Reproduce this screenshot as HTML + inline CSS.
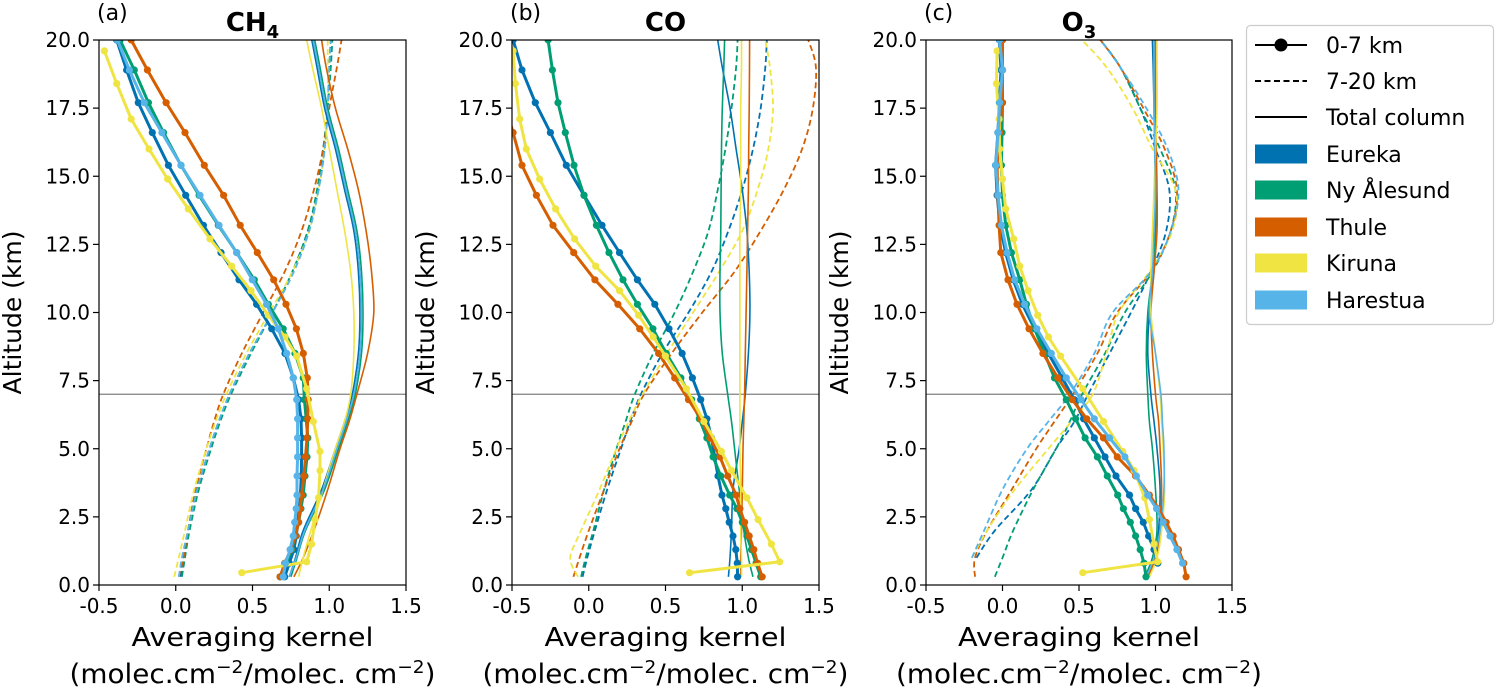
<!DOCTYPE html>
<html><head><meta charset="utf-8"><style>
html,body{margin:0;padding:0;background:#fff;}
svg{display:block;font-family:"DejaVu Sans","Liberation Sans",sans-serif;}
</style></head><body>
<svg id="chart" width="1496" height="688" viewBox="0 0 1496 688" xmlns="http://www.w3.org/2000/svg">
<defs>
<clipPath id="c0"><rect x="99" y="40" width="307" height="545"/></clipPath>
<clipPath id="c1"><rect x="512" y="40" width="307" height="545"/></clipPath>
<clipPath id="c2"><rect x="926" y="40" width="306" height="545"/></clipPath>
</defs>
</svg>
<script>
// ---------- data ----------
const xTicks = [-0.5, 0.0, 0.5, 1.0, 1.5];
const yTicks = [0, 2.5, 5, 7.5, 10, 12.5, 15, 17.5, 20];
const stations = ["Eureka", "Ny Ålesund", "Thule", "Kiruna", "Harestua"];
const colors = ["#0072B2", "#009E73", "#D55E00", "#F0E442", "#56B4E9"];
// altitude grids (km)
const altGrid = [0.3,0.8,1.3,1.8,2.3,2.8,3.3,4.0,4.7,5.4,6.1,6.8,7.6,8.5,9.4,10.3,11.2,12.2,13.2,14.3,15.4,16.6,17.7,18.9,20.0];
const altKiruna = [0.45,0.85,1.5,2.4,3.2,4.2,4.9,6.0,7.2,8.4,9.1,9.9,10.8,11.7,12.7,13.8,14.9,16.0,17.1,18.4,19.6];
const altSmooth = [0.3,1,2,3.5,5,6,7,8.5,10,11.5,13,14.5,16,17.5,19,20];

// CH4 : 0-7 km kernels
const ch4Low_Eureka = [0.71,0.74,0.77,0.785,0.795,0.805,0.812,0.818,0.82,0.82,0.816,0.80,0.766,0.712,0.625,0.527,0.412,0.295,0.18,0.065,-0.048,-0.153,-0.244,-0.32,-0.385];
const ch4Low_Ny = [0.68,0.72,0.755,0.78,0.80,0.815,0.83,0.842,0.855,0.86,0.85,0.838,0.831,0.777,0.70,0.603,0.512,0.397,0.277,0.152,0.034,-0.08,-0.178,-0.27,-0.363];
const ch4Low_Thule = [0.68,0.71,0.75,0.78,0.80,0.81,0.82,0.835,0.845,0.855,0.86,0.862,0.857,0.831,0.786,0.718,0.638,0.531,0.42,0.312,0.186,0.06,-0.063,-0.185,-0.29];
const ch4Low_Kiruna = [0.43,0.853,0.885,0.907,0.93,0.94,0.94,0.896,0.853,0.788,0.712,0.603,0.49,0.364,0.223,0.082,-0.053,-0.174,-0.29,-0.385,-0.465];
const ch4Low_Harestua = [0.70,0.715,0.745,0.765,0.775,0.785,0.79,0.79,0.794,0.794,0.794,0.788,0.766,0.723,0.668,0.592,0.499,0.397,0.282,0.158,0.034,-0.09,-0.205,-0.302,-0.38];
// CH4 : 7-20 km kernels
const ch4High_Eureka = [0.03,0.05,0.08,0.14,0.22,0.28,0.35,0.48,0.63,0.76,0.86,0.93,0.97,0.99,1.0,1.01];
const ch4High_Ny = [0.04,0.06,0.09,0.15,0.23,0.29,0.36,0.49,0.63,0.76,0.86,0.92,0.96,0.99,1.01,1.02];
const ch4High_Thule = [0.02,0.05,0.08,0.13,0.20,0.25,0.31,0.43,0.57,0.71,0.82,0.90,0.96,1.0,1.05,1.08];
const ch4High_Kiruna = [-0.01,0.02,0.06,0.12,0.20,0.26,0.33,0.46,0.61,0.76,0.87,0.93,0.97,0.99,0.99,0.99];
const ch4High_Harestua = [0.02,0.04,0.08,0.14,0.22,0.28,0.35,0.48,0.63,0.77,0.87,0.93,0.97,0.99,1.0,1.01];
// CH4 : total column
const ch4Tot_Eureka = [0.74,0.78,0.83,0.95,1.04,1.10,1.15,1.19,1.20,1.19,1.16,1.10,1.04,0.97,0.92,0.886];
const ch4Tot_Ny = [0.75,0.79,0.845,0.97,1.06,1.12,1.17,1.21,1.22,1.21,1.18,1.12,1.06,0.99,0.94,0.905];
const ch4Tot_Thule = [0.77,0.83,0.90,0.99,1.07,1.13,1.18,1.25,1.29,1.275,1.24,1.19,1.12,1.04,0.98,0.95];
const ch4Tot_Kiruna = [0.80,0.83,0.88,0.96,1.04,1.10,1.14,1.16,1.16,1.14,1.10,1.05,1.0,0.95,0.89,0.853];
const ch4Tot_Harestua = [0.74,0.785,0.84,0.96,1.05,1.11,1.16,1.20,1.21,1.20,1.17,1.11,1.05,0.98,0.93,0.895];

// CO (no Harestua)
const coLow_Eureka = [0.97,0.968,0.958,0.94,0.915,0.893,0.868,0.842,0.82,0.80,0.77,0.729,0.675,0.608,0.523,0.43,0.317,0.2,0.086,-0.031,-0.146,-0.25,-0.348,-0.435,-0.493];
const coLow_Ny = [1.12,1.09,1.06,1.03,1.0,0.965,0.918,0.86,0.81,0.77,0.72,0.67,0.60,0.505,0.418,0.317,0.223,0.132,0.05,-0.031,-0.096,-0.153,-0.2,-0.237,-0.265];
const coLow_Thule = [1.13,1.10,1.075,1.045,1.015,0.985,0.96,0.905,0.855,0.79,0.73,0.65,0.56,0.455,0.332,0.19,0.04,-0.098,-0.233,-0.341,-0.435,-0.493,-0.55,-0.6,-0.65];
const coLow_Kiruna = [0.657,1.244,1.19,1.103,1.03,0.93,0.864,0.75,0.636,0.50,0.42,0.325,0.2,0.045,-0.092,-0.216,-0.32,-0.407,-0.45,-0.478,-0.493];
const coHigh_Eureka = [-0.04,-0.01,0.04,0.12,0.21,0.27,0.34,0.48,0.65,0.80,0.91,1.0,1.07,1.12,1.15,1.16];
const coHigh_Ny = [-0.05,-0.02,0.03,0.10,0.18,0.24,0.30,0.42,0.56,0.68,0.78,0.84,0.89,0.93,0.96,0.97];
const coHigh_Thule = [-0.10,-0.06,0.0,0.10,0.20,0.28,0.36,0.54,0.74,0.95,1.12,1.27,1.39,1.46,1.48,1.43];
const coHigh_Kiruna = [-0.07,-0.12,-0.05,0.07,0.18,0.26,0.35,0.51,0.68,0.85,1.0,1.10,1.17,1.20,1.18,1.15];
const coTot_Eureka = [0.91,0.92,0.93,0.94,0.98,1.0,1.02,1.04,1.05,1.045,1.03,1.0,0.96,0.92,0.87,0.84];
const coTot_Ny = [1.07,1.04,1.01,0.98,0.95,0.93,0.905,0.87,0.855,0.855,0.86,0.862,0.865,0.87,0.88,0.885];
const coTot_Thule = [0.99,0.99,0.995,1.0,1.005,1.01,1.015,1.02,1.025,1.03,1.035,1.04,1.042,1.045,1.047,1.048];
const coTot_Kiruna = [0.995,0.995,0.99,0.99,0.985,0.985,0.985,0.985,0.985,0.985,0.985,0.99,0.99,0.99,0.995,0.995];

// O3
const o3Low_Eureka = [null,1.015,0.99,0.955,0.92,0.87,0.83,0.742,0.67,0.60,0.53,0.47,0.39,0.30,0.21,0.13,0.07,0.02,-0.015,-0.035,-0.045,-0.03,-0.02,-0.01,-0.02];
const o3Low_Ny = [0.938,0.925,0.90,0.87,0.835,0.79,0.753,0.685,0.62,0.54,0.478,0.417,0.34,0.275,0.21,0.156,0.113,0.058,0.021,0.0,-0.007,-0.003,0.0,0.0,-0.005];
const o3Low_Thule = [1.20,1.185,1.15,1.115,1.07,1.02,0.96,0.87,0.75,0.66,0.55,0.456,0.362,0.264,0.173,0.095,0.036,-0.011,-0.022,-0.03,-0.035,-0.018,0.0,0.0,0.0];
const o3Low_Kiruna = [0.525,1.014,0.99,0.96,0.93,0.86,0.786,0.66,0.525,0.38,0.30,0.23,0.167,0.113,0.073,0.021,0.0,-0.018,-0.022,-0.04,-0.035];
const o3Low_Harestua = [null,1.177,1.14,1.095,1.05,1.007,0.949,0.875,0.80,0.70,0.60,0.514,0.417,0.319,0.225,0.145,0.08,0.03,-0.007,-0.029,-0.044,-0.029,-0.018,0.0,-0.018];
const o3High_Eureka = [null,-0.17,-0.05,0.19,0.35,0.47,0.56,0.70,0.84,0.97,1.07,1.09,1.0,0.90,0.77,0.64];
const o3High_Ny = [-0.05,0.0,0.07,0.20,0.35,0.44,0.52,0.67,0.80,0.98,1.10,1.13,1.03,0.90,0.77,0.64];
const o3High_Thule = [-0.18,-0.18,-0.10,0.06,0.22,0.34,0.46,0.62,0.75,0.97,1.10,1.14,1.06,0.92,0.77,0.64];
const o3High_Kiruna = [null,-0.20,-0.10,0.08,0.30,0.45,0.59,0.68,0.76,0.96,1.11,1.13,0.98,0.85,0.68,0.52];
const o3High_Harestua = [null,-0.20,-0.12,0.0,0.16,0.30,0.44,0.60,0.72,0.97,1.10,1.15,1.08,0.94,0.77,0.64];
const o3Tot_Eureka = [0.96,1.0,1.02,1.03,1.01,0.99,0.97,0.95,0.96,0.99,1.0,1.0,0.995,0.99,0.985,0.98];
const o3Tot_Ny = [0.93,0.98,1.01,1.0,0.98,0.96,0.95,0.94,0.95,0.98,1.0,1.0,0.995,0.995,0.995,0.995];
const o3Tot_Thule = [0.95,1.0,1.03,1.04,1.03,1.02,1.0,0.98,0.97,0.99,1.01,1.01,1.005,1.0,1.0,1.0];
const o3Tot_Kiruna = [0.96,1.01,1.04,1.06,1.05,1.04,1.03,1.0,0.97,0.97,0.98,0.99,1.0,1.01,1.01,1.01];
const o3Tot_Harestua = [0.94,0.99,1.03,1.055,1.055,1.045,1.035,1.0,0.96,0.98,0.99,1.0,0.995,0.99,0.99,0.99];

// ---------- layout ----------
const NS = "http://www.w3.org/2000/svg";
const svg = document.getElementById("chart");
const panels = [
  {x0:99, x1:406, letter:"(a)", title:"CH", sub:"4", key:"ch4",
   low:[ch4Low_Eureka,ch4Low_Ny,ch4Low_Thule,ch4Low_Kiruna,ch4Low_Harestua],
   high:[ch4High_Eureka,ch4High_Ny,ch4High_Thule,ch4High_Kiruna,ch4High_Harestua],
   tot:[ch4Tot_Eureka,ch4Tot_Ny,ch4Tot_Thule,ch4Tot_Kiruna,ch4Tot_Harestua]},
  {x0:512, x1:819, letter:"(b)", title:"CO", sub:"", key:"co",
   low:[coLow_Eureka,coLow_Ny,coLow_Thule,coLow_Kiruna,null],
   high:[coHigh_Eureka,coHigh_Ny,coHigh_Thule,coHigh_Kiruna,null],
   tot:[coTot_Eureka,coTot_Ny,coTot_Thule,coTot_Kiruna,null]},
  {x0:926, x1:1232, letter:"(c)", title:"O", sub:"3", key:"o3",
   low:[o3Low_Eureka,o3Low_Ny,o3Low_Thule,o3Low_Kiruna,o3Low_Harestua],
   high:[o3High_Eureka,o3High_Ny,o3High_Thule,o3High_Kiruna,o3High_Harestua],
   tot:[o3Tot_Eureka,o3Tot_Ny,o3Tot_Thule,o3Tot_Kiruna,o3Tot_Harestua]}
];
const yTop = 40, yBot = 585;
function yScale(a){ return yBot - (a/20)*(yBot-yTop); }
function mk(tag, attrs, parent){ const e=document.createElementNS(NS,tag); for(const k in attrs) e.setAttribute(k,attrs[k]); (parent||svg).appendChild(e); return e; }
function smoothPath(pts){
  if(pts.length<2) return "";
  let d="M"+pts[0][0].toFixed(1)+","+pts[0][1].toFixed(1);
  for(let i=0;i<pts.length-1;i++){
    const p0=pts[Math.max(0,i-1)], p1=pts[i], p2=pts[i+1], p3=pts[Math.min(pts.length-1,i+2)];
    const c1=[p1[0]+(p2[0]-p0[0])/6, p1[1]+(p2[1]-p0[1])/6];
    const c2=[p2[0]-(p3[0]-p1[0])/6, p2[1]-(p3[1]-p1[1])/6];
    d+="C"+c1[0].toFixed(1)+","+c1[1].toFixed(1)+" "+c2[0].toFixed(1)+","+c2[1].toFixed(1)+" "+p2[0].toFixed(1)+","+p2[1].toFixed(1);
  }
  return d;
}

panels.forEach((p, pi) => {
  const xScale = v => p.x0 + (v + 0.5) / 2 * (p.x1 - p.x0);
  const g = mk("g", {});
  
  
  const plot = mk("g", {"clip-path":"url(#c"+pi+")"}, g);
  
  
  const hl = mk("line", {x1:p.x0, x2:p.x1, y1:yScale(7), y2:yScale(7), stroke:"#808080", "stroke-width":1.3}, plot);
  
  
  p.high.forEach((arr, si) => {
    if(!arr) return;
    const pts=[]; arr.forEach((v,i)=>{ if(v!==null) pts.push([xScale(v), yScale(altSmooth[i])]); });
    const e = mk("path", {d:smoothPath(pts), fill:"none", stroke:colors[si], "stroke-width":1.8, "stroke-dasharray":"6,3.5"}, plot);
    
    
  });
  p.tot.forEach((arr, si) => {
    if(!arr) return;
    const pts=arr.map((v,i)=>[xScale(v), yScale(altSmooth[i])]);
    const e = mk("path", {d:smoothPath(pts), fill:"none", stroke:colors[si], "stroke-width":1.6}, plot);
    
    
  });
  p.low.forEach((arr, si) => {
    if(!arr) return;
    const alts = si===3 ? altKiruna : altGrid;
    const pts=[]; arr.forEach((v,i)=>{ if(v!==null) pts.push([xScale(v), yScale(alts[i])]); });
    const sg = mk("g", {}, plot);
    
    
    mk("polyline", {points:pts.map(q=>q[0].toFixed(1)+","+q[1].toFixed(1)).join(" "), fill:"none", stroke:colors[si], "stroke-width":3, "stroke-linejoin":"round"}, sg);
    pts.forEach(q => {
      const c = mk("circle", {cx:q[0].toFixed(1), cy:q[1].toFixed(1), r:3.6, fill:colors[si]}, sg);
      
      
    });
  });
  const fr = mk("rect", {x:p.x0, y:yTop, width:p.x1-p.x0, height:yBot-yTop, fill:"none", stroke:"#000", "stroke-width":1.2}, g);
  
  
  xTicks.forEach(t => {
    const x = xScale(t);
    mk("line", {x1:x, x2:x, y1:yBot, y2:yBot+6, stroke:"#000", "stroke-width":1.2}, g);
    const tx = mk("text", {x:x, y:yBot+28, "text-anchor":"middle", "font-size":20, fill:"#000"}, g);
    tx.textContent = t.toFixed(1);
    
    
  });
  yTicks.forEach(t => {
    const y = yScale(t);
    mk("line", {x1:p.x0-6, x2:p.x0, y1:y, y2:y, stroke:"#000", "stroke-width":1.2}, g);
    const ty = mk("text", {x:p.x0-9, y:y+7, "text-anchor":"end", "font-size":20, fill:"#000"}, g);
    ty.textContent = t.toFixed(1);
    
    
  });
  const yl = mk("text", {x:0, y:0, "text-anchor":"middle", "font-size":25, fill:"#000", transform:"translate("+(p.x0-78)+","+((yTop+yBot)/2)+") rotate(-90)"}, g);
  yl.textContent = "Altitude (km)";
  
  
  const cx = (p.x0+p.x1)/2;
  const xl = mk("text", {x:cx, y:646, "text-anchor":"middle", "font-size":26, fill:"#000", textLength:242, lengthAdjust:"spacingAndGlyphs"}, g);
  xl.textContent = "Averaging kernel";
  
  
  const xu = mk("text", {x:cx, y:683, "text-anchor":"middle", "font-size":27, fill:"#000", textLength:366, lengthAdjust:"spacingAndGlyphs"}, g);
  xu.innerHTML = '(molec.cm<tspan dy="-10" font-size="18">−2</tspan><tspan dy="10">/molec. cm</tspan><tspan dy="-10" font-size="18">−2</tspan><tspan dy="10">)</tspan>';
  
  
  const lt = mk("text", {x:p.x0-2, y:20, "font-size":22, fill:"#000"}, g);
  lt.textContent = p.letter;
  
  
  const tt = mk("text", {x:cx, y:31, "text-anchor":"middle", "font-size":26, "font-weight":"bold", fill:"#000"}, g);
  tt.innerHTML = p.title + (p.sub ? '<tspan dy="7" font-size="18">'+p.sub+'</tspan>' : '');
  
  
});

// ---------- legend ----------
const lg = mk("g", {});


mk("rect", {x:1246.5, y:25.5, width:247, height:299, rx:4, fill:"#fff", stroke:"#ccc", "stroke-width":1.2}, lg);
const legendLabels = ["0-7 km","7-20 km","Total column","Eureka","Ny Ålesund","Thule","Kiruna","Harestua"];
const legendY = [45,81,117,154,190,227,263,300];
legendLabels.forEach((lab, i) => {
  const y = legendY[i];
  const eg = mk("g", {}, lg);
  
  
  if(i===0){
    mk("line",{x1:1255,x2:1307,y1:y,y2:y,stroke:"#000","stroke-width":2},eg);
    mk("circle",{cx:1281,cy:y,r:6.5,fill:"#000"},eg);
  } else if(i===1){
    mk("line",{x1:1255,x2:1307,y1:y,y2:y,stroke:"#000","stroke-width":2,"stroke-dasharray":"6,3.5"},eg);
  } else if(i===2){
    mk("line",{x1:1255,x2:1307,y1:y,y2:y,stroke:"#000","stroke-width":2},eg);
  } else {
    mk("rect",{x:1255,y:y-9.5,width:52,height:19,fill:colors[i-3]},eg);
  }
  const t = mk("text",{x:1326,y:y+8,"font-size":22,fill:"#000"},eg);
  t.textContent = lab;
});
</script>
</body></html>
